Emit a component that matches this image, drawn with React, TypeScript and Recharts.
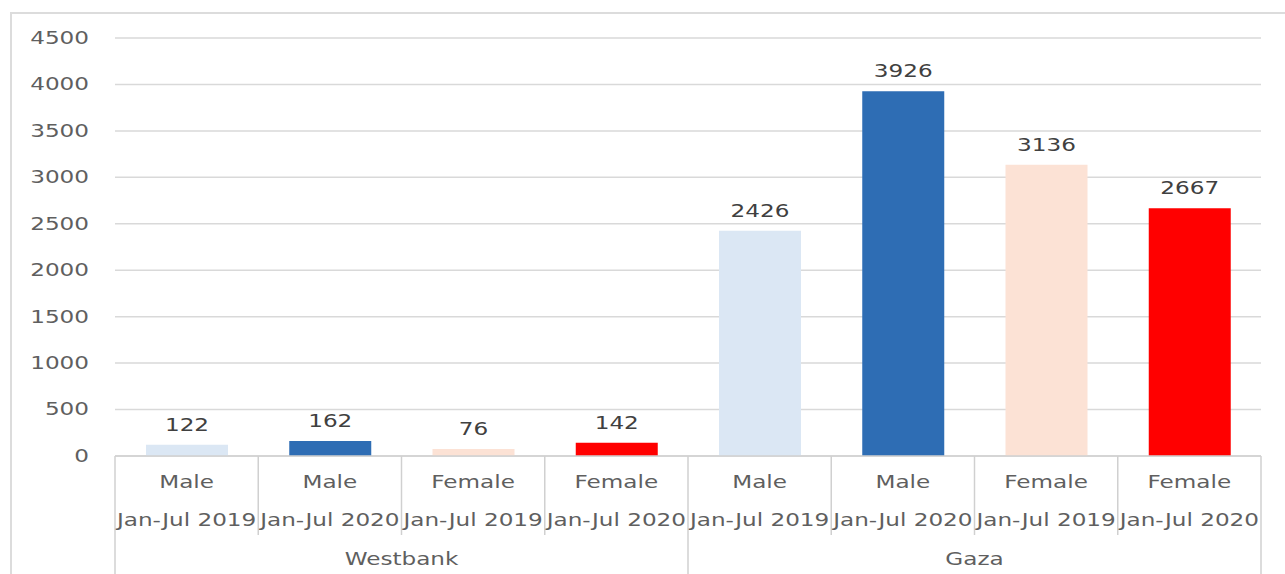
import { BarChart, Bar, XAxis, YAxis, CartesianGrid, Cell, LabelList } from "recharts";

const regions = ["Westbank", "Gaza"];
const genders = ["Male", "Male", "Female", "Female", "Male", "Male", "Female", "Female"];
const periods = [
  "Jan-Jul 2019",
  "Jan-Jul 2020",
  "Jan-Jul 2019",
  "Jan-Jul 2020",
  "Jan-Jul 2019",
  "Jan-Jul 2020",
  "Jan-Jul 2019",
  "Jan-Jul 2020",
];
const cases = [122, 162, 76, 142, 2426, 3926, 3136, 2667];
const yTicks = [0, 500, 1000, 1500, 2000, 2500, 3000, 3500, 4000, 4500];
const barColors = ["#dbe7f4", "#2e6db4", "#fce2d5", "#ff0000", "#dbe7f4", "#2e6db4", "#fce2d5", "#ff0000"];

const data = cases.map((v, i) => ({
  key: String(i),
  gender: genders[i],
  period: periods[i],
  region: regions[Math.floor(i / 4)],
  value: v,
}));

const W = 1285;
const H = 574;
const LEFT = 115;
const RIGHT = 1261;
const TOP = 38;
const AXIS_Y = 456;
const BAND = (RIGHT - LEFT) / data.length;
const FONT = "'DejaVu Sans', Verdana, sans-serif";
const SX = 1.36;
const LINE = "#d0d0d0";
const TEXT = "#5f5f5f";

function YTick(props: any) {
  const { y, payload } = props;
  return (
    <text
      transform={`translate(89,${y}) scale(${SX},1)`}
      textAnchor="end"
      dominantBaseline="central"
      fontFamily={FONT}
      fontSize={17}
      fill={TEXT}
    >
      {payload.value}
    </text>
  );
}

function XTick(props: any) {
  const { x, payload } = props;
  const i = Number(payload.value);
  const d = data[i];
  const left = x - BAND / 2;
  const groupStart = i % 4 === 0;
  const last = i === data.length - 1;
  return (
    <g>
      <line x1={left} x2={left} y1={AXIS_Y} y2={groupStart ? H : 535} stroke={LINE} strokeWidth={1.5} />
      {last && <line x1={x + BAND / 2} x2={x + BAND / 2} y1={AXIS_Y} y2={H} stroke={LINE} strokeWidth={1.5} />}
      <text
        transform={`translate(${x},482) scale(${SX},1)`}
        textAnchor="middle"
        dominantBaseline="central"
        fontFamily={FONT}
        fontSize={17}
        fill={TEXT}
      >
        {d.gender}
      </text>
      <text
        transform={`translate(${x},520) scale(${SX},1)`}
        textAnchor="middle"
        dominantBaseline="central"
        fontFamily={FONT}
        fontSize={17}
        fill={TEXT}
      >
        {d.period}
      </text>
      {groupStart && (
        <text
          transform={`translate(${x + 1.5 * BAND},559) scale(${SX},1)`}
          textAnchor="middle"
          dominantBaseline="central"
          fontFamily={FONT}
          fontSize={17}
          fill={TEXT}
        >
          {d.region}
        </text>
      )}
    </g>
  );
}

function ValueLabel(props: any) {
  const { x, y, width, value } = props;
  return (
    <text
      transform={`translate(${x + width / 2},${y - 20}) scale(${SX},1)`}
      textAnchor="middle"
      dominantBaseline="central"
      fontFamily={FONT}
      fontSize={17}
      fill="#404040"
    >
      {value}
    </text>
  );
}

export default function App() {
  return (
    <div style={{ position: "absolute", left: 0, top: 0, width: W, height: H, background: "#fff", overflow: "hidden" }}>
      <div
        style={{
          position: "absolute",
          left: 10,
          top: 12,
          width: W,
          height: H,
          borderTop: "2px solid #dcdcdc",
          borderLeft: "2px solid #dcdcdc",
        }}
      />
      <div style={{ position: "absolute", left: 0, top: 0 }}>
        <BarChart
          width={W}
          height={H}
          data={data}
          margin={{ top: TOP, right: W - RIGHT, left: 0, bottom: 0 }}
        >
          <CartesianGrid vertical={false} stroke="#d9d9d9" strokeWidth={1.5} />
          <YAxis
            width={LEFT}
            domain={[0, 4500]}
            ticks={yTicks}
            axisLine={false}
            tickLine={false}
            tick={<YTick />}
            interval={0}
          />
          <XAxis
            dataKey="key"
            height={H - AXIS_Y}
            axisLine={{ stroke: LINE, strokeWidth: 1.5 }}
            tickLine={false}
            tick={<XTick />}
            interval={0}
          />
          <Bar dataKey="value" barSize={82} isAnimationActive={false}>
            {data.map((d, i) => (
              <Cell key={d.key} fill={barColors[i]} />
            ))}
            <LabelList dataKey="value" content={<ValueLabel />} />
          </Bar>
        </BarChart>
      </div>
    </div>
  );
}
